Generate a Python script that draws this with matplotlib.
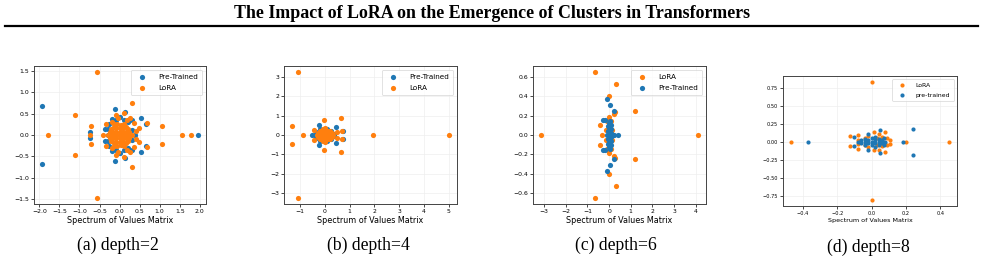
import numpy as np
import matplotlib.pyplot as plt
from matplotlib.lines import Line2D

# ------------------------------------------------------------
# Eigenvalues (real, imag) read off the reference picture
# ------------------------------------------------------------

# dense cluster of the LoRA spectrum in (a)
blob_a = [
    (0.00, 0.00), (0.08, 0.00), (-0.08, 0.00), (0.16, 0.00), (-0.16, 0.00),
    (0.24, 0.00), (-0.24, 0.00), (0.30, 0.00), (-0.30, 0.00), (0.00, 0.08),
    (0.00, -0.08), (0.08, 0.08), (0.08, -0.08), (-0.08, 0.08), (-0.08, -0.08),
    (0.16, 0.08), (0.16, -0.08), (-0.16, 0.08), (-0.16, -0.08), (0.24, 0.07),
    (0.24, -0.07), (-0.24, 0.07), (-0.24, -0.07), (0.22, 0.14), (0.22, -0.14),
    (-0.22, 0.14), (-0.22, -0.14), (0.00, 0.16), (0.00, -0.16), (0.08, 0.16),
    (0.08, -0.16), (-0.08, 0.16), (-0.08, -0.16), (0.15, 0.19), (0.15, -0.19),
    (-0.15, 0.19), (-0.15, -0.19), (0.04, 0.24), (0.04, -0.24), (-0.06, 0.25),
    (-0.06, -0.25), (0.12, 0.26), (0.12, -0.26), (-0.14, 0.26), (-0.14, -0.26),
]

pre_a = [
    (-1.94, 0.68), (-1.94, -0.68), (1.96, 0.00),
    (-0.74, 0.06), (-0.74, -0.06), (-0.36, 0.13), (-0.36, -0.13),
    (-0.30, 0.15), (-0.30, -0.15), (-0.12, 0.60), (-0.12, -0.60),
    (0.14, 0.53), (0.14, -0.53), (0.53, 0.41), (0.53, -0.41),
    (0.66, 0.25), (0.66, -0.25), (0.31, 0.35), (0.31, -0.35),
    (0.02, 0.42), (0.02, -0.42), (-0.20, 0.38), (-0.20, -0.38),
    (0.38, 0.00), (0.30, 0.12), (0.30, -0.12), (0.22, 0.30), (0.22, -0.30),
    (-0.26, 0.26), (-0.26, -0.26), (0.10, 0.36), (0.10, -0.36),
    (-0.08, 0.34), (-0.08, -0.34), (-0.28, 0.00), (0.05, 0.05), (0.05, -0.05),
]

lora_a = [
    (-0.57, 1.47), (-0.57, -1.47), (-1.11, 0.48), (-1.11, -0.48),
    (-1.78, 0.00), (1.56, 0.00), (1.78, 0.00),
    (1.05, 0.22), (1.05, -0.22), (0.31, 0.74), (0.31, -0.74),
    (-0.71, 0.21), (-0.71, -0.21), (-0.73, 0.00),
    (0.69, 0.28), (0.69, -0.28), (0.48, 0.16), (0.48, -0.16),
    (-0.42, 0.00), (-0.35, 0.25), (-0.35, -0.25),
    (0.12, 0.51), (0.12, -0.51), (-0.10, 0.48), (-0.10, -0.48),
    (0.35, 0.28), (0.35, -0.28), (0.25, 0.40), (0.25, -0.40),
    (-0.05, 0.40), (-0.05, -0.40), (0.40, 0.10), (0.40, -0.10),
    (-0.20, 0.30), (-0.20, -0.30), (0.18, 0.36), (0.18, -0.36),
] + blob_a

pre_b = [
    (-0.54, 0.00), (-0.23, 0.50), (-0.23, -0.50), (0.46, 0.42), (0.46, -0.42),
    (0.73, 0.22), (0.73, -0.22), (0.25, 0.20), (0.25, -0.20), (0.36, 0.05),
    (0.36, -0.05), (-0.36, 0.15), (-0.36, -0.15), (-0.20, 0.30), (-0.20, -0.30),
    (0.10, 0.30), (0.10, -0.30), (-0.42, 0.00), (0.15, 0.10), (0.15, -0.10),
    (-0.10, 0.10), (-0.10, -0.10), (0.00, 0.00),
]

lora_b = [
    (-1.11, 3.23), (-1.11, -3.23), (-1.34, 0.46), (-1.34, -0.46), (-0.87, 0.00),
    (1.94, 0.00), (5.02, 0.00), (0.64, 0.86), (0.64, -0.86), (0.70, 0.21),
    (0.70, -0.21), (-0.04, 0.76), (-0.04, -0.76), (0.47, 0.14), (0.47, -0.14),
    (-0.44, 0.26), (-0.44, -0.26),
    (0.00, 0.00), (0.12, 0.00), (-0.12, 0.00), (0.24, 0.00), (-0.24, 0.00),
    (0.34, 0.00), (-0.32, 0.00), (0.06, 0.12), (0.06, -0.12), (-0.06, 0.12),
    (-0.06, -0.12), (0.18, 0.12), (0.18, -0.12), (-0.18, 0.12), (-0.18, -0.12),
    (0.28, 0.10), (0.28, -0.10), (-0.28, 0.10), (-0.28, -0.10), (0.00, 0.24),
    (0.00, -0.24), (0.12, 0.22), (0.12, -0.22), (-0.12, 0.22), (-0.12, -0.22),
    (0.22, 0.20), (0.22, -0.20), (-0.20, 0.20), (-0.20, -0.20), (0.02, 0.34),
    (0.02, -0.34), (-0.08, 0.32), (-0.08, -0.32),
]

lora_c = [
    (-3.15, 0.00), (4.11, 0.00), (-0.64, 0.65), (-0.64, -0.65),
    (0.30, 0.53), (0.30, -0.53), (1.19, 0.25), (1.19, -0.25),
    (0.00, 0.40), (0.00, -0.40), (0.27, 0.24), (0.27, -0.24),
    (-0.41, 0.10), (-0.41, -0.10), (-0.33, 0.00),
    (0.00, 0.19), (0.00, -0.19), (0.10, 0.14), (0.10, -0.14),
    (-0.10, 0.14), (-0.10, -0.14), (0.22, 0.22), (0.22, -0.22),
    (-0.15, 0.05), (-0.15, -0.05), (0.15, 0.05), (0.15, -0.05), (0.20, 0.00),
    (-0.05, 0.16), (-0.05, -0.16),
]

pre_c = [
    (-0.10, 0.37), (-0.10, -0.37), (0.03, 0.31), (0.03, -0.31),
    (0.24, 0.25), (0.24, -0.25), (-0.30, 0.16), (-0.30, -0.16),
    (-0.18, 0.16), (-0.18, -0.16), (0.43, 0.00),
    (0.00, 0.00), (0.00, 0.04), (0.00, -0.04), (0.00, 0.08), (0.00, -0.08),
    (0.00, 0.12), (0.00, -0.12), (0.08, 0.02), (0.08, -0.02), (0.08, 0.06),
    (0.08, -0.06), (0.10, 0.10), (0.10, -0.10), (-0.06, 0.04), (-0.06, -0.04),
    (-0.05, 0.09), (-0.05, -0.09), (0.04, 0.14), (0.04, -0.14),
    (0.14, 0.00), (-0.08, 0.00), (0.22, 0.00),
]

lora_d = [
    (0.00, 0.83), (0.00, -0.81), (-0.47, 0.00), (0.45, 0.00), (0.20, 0.00),
    (0.105, 0.025), (0.105, -0.025), (-0.126, 0.075), (-0.126, -0.065),
    (-0.077, 0.10), (-0.077, -0.10), (0.075, 0.14), (0.075, -0.14),
    (0.04, 0.11), (0.04, -0.11), (0.015, 0.13), (0.015, -0.12),
    (-0.04, 0.05), (-0.04, -0.05), (-0.08, 0.03), (-0.08, -0.03),
    (0.06, 0.06), (0.06, -0.06), (0.09, 0.05), (0.09, -0.05),
    (-0.02, 0.08), (-0.02, -0.08), (0.03, 0.05), (0.03, -0.05),
]

pre_d = [
    (-0.37, 0.00), (0.24, 0.18), (0.24, -0.18), (0.18, 0.00),
    (0.05, 0.165), (0.05, -0.15), (-0.10, 0.065), (-0.10, -0.065),
    (-0.02, 0.11), (-0.02, -0.11), (-0.08, 0.00),
    (0.00, 0.00), (0.02, 0.02), (0.02, -0.02), (-0.02, 0.02), (-0.02, -0.02),
    (0.04, 0.00), (-0.04, 0.00), (0.06, 0.02), (0.06, -0.02), (-0.06, 0.02),
    (-0.06, -0.02), (0.00, 0.05), (0.00, -0.05), (0.04, 0.04), (0.04, -0.04),
    (-0.04, 0.04), (-0.04, -0.04), (0.07, 0.05), (0.07, -0.05), (0.08, 0.00),
    (-0.07, 0.00), (0.02, 0.07), (0.02, -0.07),
]

captions = ["(a) depth=2", "(b) depth=4", "(c) depth=6", "(d) depth=8"]

BLUE = "#1f77b4"
ORANGE = "#ff7f0e"


def scatter(ax, pts, color, label, s):
    arr = np.array(pts)
    ax.scatter(arr[:, 0], arr[:, 1], s=s, color=color, label=label, linewidths=0)


def style_axes(ax, tick_fs, label_fs, legend_fs):
    ax.grid(True, color="#eeeeee", linewidth=0.5)
    ax.set_axisbelow(True)
    ax.tick_params(labelsize=tick_fs, length=2, width=0.5, pad=1.5)
    for sp in ax.spines.values():
        sp.set_linewidth(0.7)
        sp.set_color("#444444")
    ax.set_xlabel("Spectrum of Values Matrix", fontsize=label_fs, labelpad=1.5)
    leg = ax.legend(loc="upper right", fontsize=legend_fs, handletextpad=1.2,
                    borderpad=0.6, labelspacing=0.7, markerscale=1.0)
    leg.get_frame().set_linewidth(0.5)


fig = plt.figure(figsize=(9.85, 2.8), dpi=100)

# (a)
ax = fig.add_axes([0.0345, 0.2714, 0.1746, 0.4929])
scatter(ax, pre_a, BLUE, "Pre-Trained", 14)
scatter(ax, lora_a, ORANGE, "LoRA", 14)
ax.set_xticks(np.arange(-2.0, 2.01, 0.5))
ax.set_yticks(np.arange(-1.5, 1.51, 0.5))
style_axes(ax, 4.4, 5.8, 5.2)

# (b)
ax = fig.add_axes([0.2883, 0.2714, 0.1756, 0.4929])
scatter(ax, pre_b, BLUE, "Pre-Trained", 14)
scatter(ax, lora_b, ORANGE, "LoRA", 14)
ax.set_xticks(np.arange(-1, 6, 1))
ax.set_yticks(np.arange(-3, 4, 1))
style_axes(ax, 4.4, 5.8, 5.2)

# (c)
ax = fig.add_axes([0.5411, 0.2714, 0.1756, 0.4929])
scatter(ax, lora_c, ORANGE, "LoRA", 14)
scatter(ax, pre_c, BLUE, "Pre-Trained", 14)
ax.set_xticks(np.arange(-3, 5, 1))
ax.set_yticks(np.arange(-0.6, 0.61, 0.2))
style_axes(ax, 4.4, 5.8, 5.2)

# (d)
ax = fig.add_axes([0.7949, 0.2643, 0.1766, 0.4643])
scatter(ax, lora_d, ORANGE, "LoRA", 9)
scatter(ax, pre_d, BLUE, "pre-trained", 9)
ax.set_xticks(np.arange(-0.4, 0.41, 0.2))
ax.set_yticks(np.arange(-0.75, 0.76, 0.25))
style_axes(ax, 3.6, 4.6, 4.4)

# captions under each panel
for cx, cy, txt in zip([0.1198, 0.3736, 0.6254, 0.8812],
                       [0.125, 0.125, 0.125, 0.118], captions):
    fig.text(cx, cy, txt, ha="center", va="center", fontsize=12.7,
             family="Liberation Serif")

# title and rule
fig.text(0.5, 0.95, "The Impact of LoRA on the Emergence of Clusters in Transformers",
         ha="center", va="center", fontsize=12.9, fontweight="bold",
         family="Liberation Serif")
fig.add_artist(Line2D([5 / 985, 978 / 985], [0.907, 0.907], color="black",
                      linewidth=1.6, transform=fig.transFigure))

fig.savefig("out.png", dpi=100)
